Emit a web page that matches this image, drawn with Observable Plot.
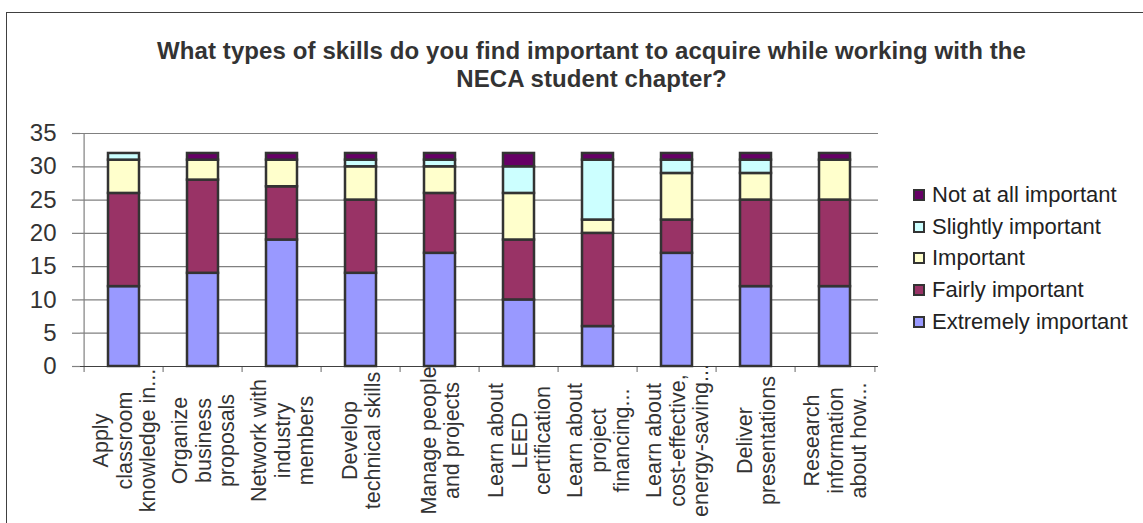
<!DOCTYPE html>
<html><head><meta charset="utf-8">
<script src="https://cdn.jsdelivr.net/npm/d3@7"></script>
<script src="https://cdn.jsdelivr.net/npm/@observablehq/plot@0.6"></script>
<style>
body{margin:0;background:#fff;font-family:"Liberation Sans",Arial,sans-serif;}
#page{position:relative;width:1143px;height:523px;overflow:hidden;background:#fff;}
#frame{position:absolute;left:6px;top:12px;width:1300px;height:800px;border:1.5px solid #404040;box-sizing:border-box;}
#title{position:absolute;left:0;top:37px;width:1183px;text-align:center;font-size:24px;font-weight:bold;line-height:28px;color:#333;letter-spacing:0.1px;}
#chart{position:absolute;left:0;top:110px;}
#legend{position:absolute;left:913px;top:179px;font-size:22px;color:#222;}
.row{height:31.7px;display:flex;align-items:center;white-space:nowrap;}
.sw{width:8px;height:8px;border:2px solid #333;margin-right:7px;flex:none;}
</style></head><body>
<div id="page">
<div id="frame"></div>
<div id="title">What types of skills do you find important to acquire while working with the<br>NECA student chapter?</div>
<div id="chart"></div>
<div id="legend"></div>
</div>
<script>
const categories = [
  "Apply\nclassroom\nknowledge in...",
  "Organize\nbusiness\nproposals",
  "Network with\nindustry\nmembers",
  "Develop\ntechnical skills",
  "Manage people\nand projects",
  "Learn about\nLEED\ncertification",
  "Learn about\nproject\nfinancing...",
  "Learn about\ncost-effective,\nenergy-saving...",
  "Deliver\npresentations",
  "Research\ninformation\nabout how..."
];
const series = ["Extremely important", "Fairly important", "Important", "Slightly important", "Not at all important"];
const colors = ["#9999FF", "#993366", "#FFFFCC", "#CCFFFF", "#660066"];
const extremely = [12, 14, 19, 14, 17, 10, 6, 17, 12, 12];
const fairly    = [14, 14,  8, 11,  9,  9, 14, 5, 13, 13];
const important = [ 5,  3,  4,  5,  4,  7,  2, 7,  4,  6];
const slightly  = [ 1,  0,  0,  1,  1,  4,  9, 2,  2,  0];
const notAtAll  = [ 0,  1,  1,  1,  1,  2,  1, 1,  1,  1];
const yTicks = [0, 5, 10, 15, 20, 25, 30, 35];

const seriesValues = [extremely, fairly, important, slightly, notAtAll];
const data = [];
series.forEach((s, si) => categories.forEach((c, ci) => data.push({cat: c, series: s, value: seriesValues[si][ci]})));

const W = 1143, H = 413, ML = 80, MR = 265, MT = 23, MB = 157;
const step = (W - ML - MR) / categories.length;

const chart = Plot.plot({
  width: W, height: H,
  marginLeft: ML, marginRight: MR, marginTop: MT, marginBottom: MB,
  style: {fontFamily: "'Liberation Sans', Arial, sans-serif", background: "transparent", overflow: "visible"},
  x: {type: "band", domain: categories, paddingInner: 0.61, paddingOuter: 0.305, axis: null},
  y: {domain: [0, 35], axis: null},
  color: {domain: series, range: colors},
  marks: [
    Plot.ruleY(yTicks.filter(d => d > 0), {y: d => d, stroke: "#808080", strokeWidth: 1.2}),
    Plot.axisY(yTicks, {label: null, tickSize: 8, tickPadding: 16, fontSize: 24, stroke: "#808080", fill: "#333", strokeWidth: 1.2}),
    Plot.ruleX(categories, {x: d => d, dx: -step / 2, y1: d => d === categories[0] ? 35 : 0, y2: -0.9, stroke: "#808080", strokeWidth: 1.2}),
    Plot.ruleX([categories[categories.length - 1]], {x: d => d, dx: step / 2, y1: 0, y2: -0.9, stroke: "#808080", strokeWidth: 1.2}),
    Plot.ruleY([0], {stroke: "#404040", strokeWidth: 1.2}),
    Plot.barY(data, {x: "cat", y: "value", fill: "series", stroke: "#333", strokeWidth: 2.5}),
    Plot.text(categories, {x: d => d, y: () => 0, text: d => d, rotate: -90, dy: 74, textAnchor: "middle", lineAnchor: "middle", lineHeight: 1.1, fontSize: 21.5, fill: "#333"})
  ]
});
document.getElementById("chart").appendChild(chart);

const legend = document.getElementById("legend");
series.slice().reverse().forEach(s => {
  const row = document.createElement("div");
  row.className = "row";
  const sw = document.createElement("span");
  sw.className = "sw";
  sw.style.background = colors[series.indexOf(s)];
  const t = document.createElement("span");
  t.textContent = s;
  row.appendChild(sw); row.appendChild(t);
  legend.appendChild(row);
});
</script>
</body></html>
